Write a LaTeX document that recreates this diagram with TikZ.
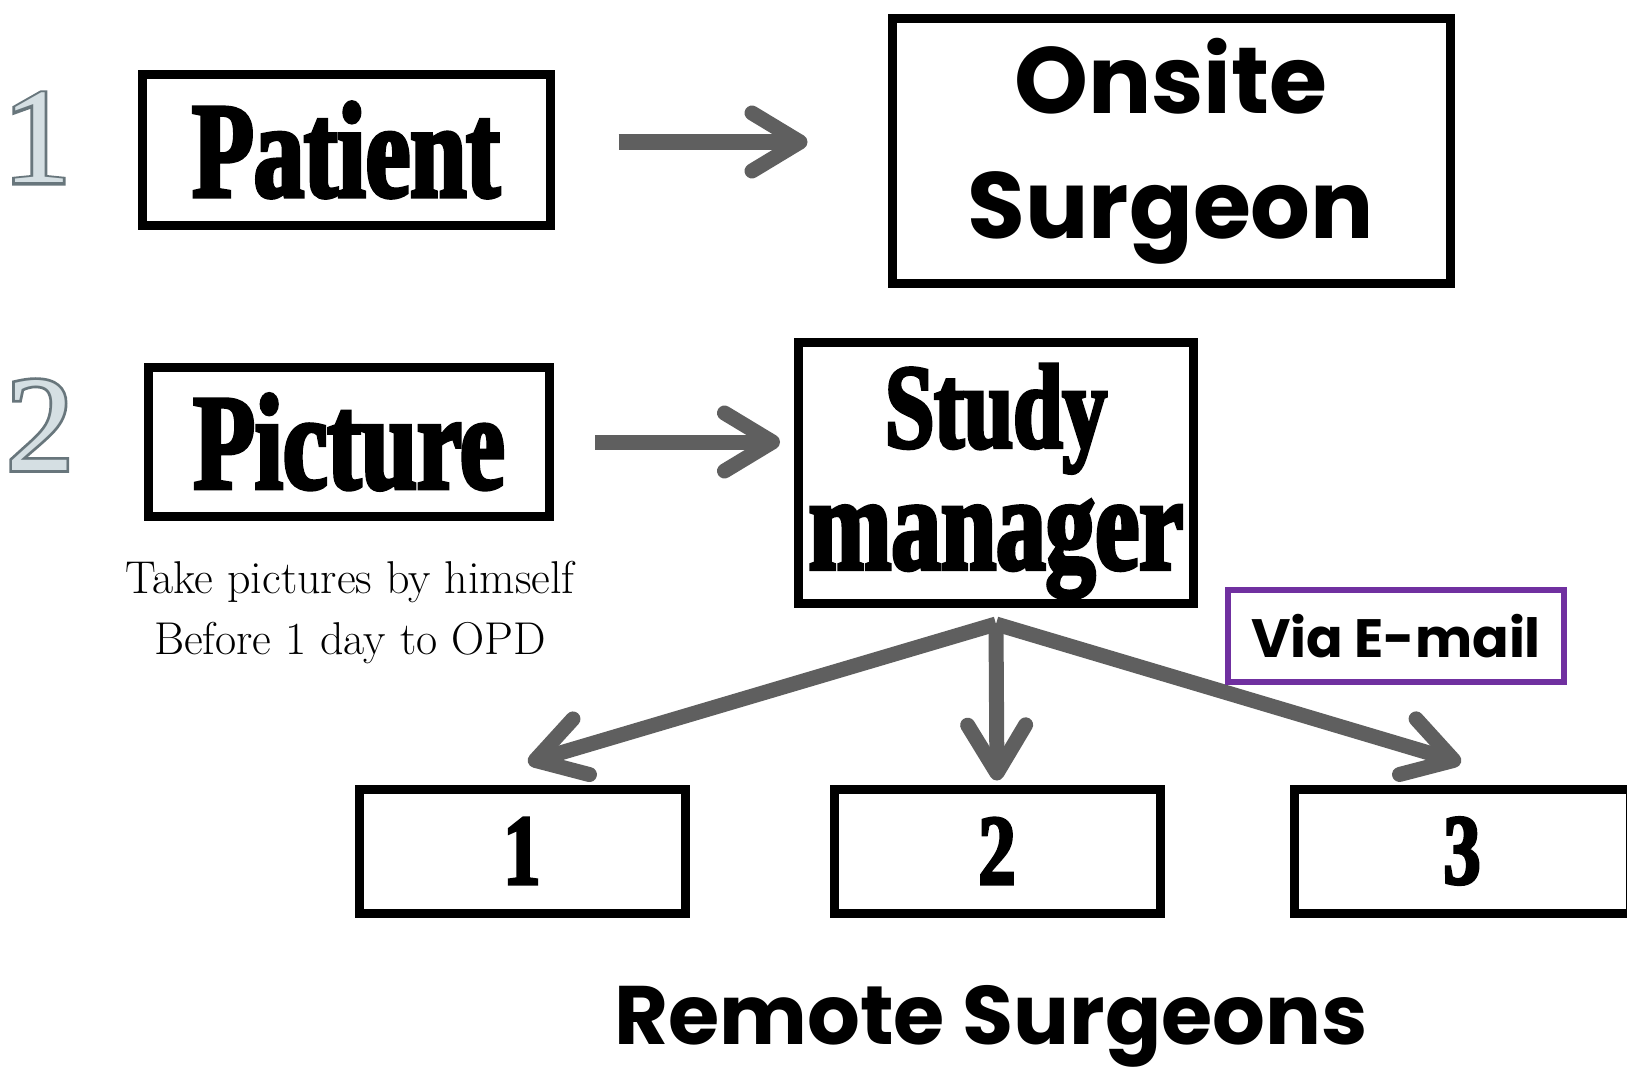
\documentclass[tikz,border=0pt]{standalone}
\usepackage{fontspec}
\usepackage{tikz}
\usetikzlibrary{arrows.meta}

% fonts
\newfontfamily\condfont{Liberation Serif}[FakeStretch=0.74, FakeBold=3]
\newfontfamily\headfont{Poppins}
\newfontfamily\numfont{Liberation Serif}
\newfontfamily\numedge{Liberation Serif}[FakeBold=4]

\definecolor{arrowgray}{HTML}{5F5F5F}
\definecolor{mailpurple}{HTML}{7030A0}
\definecolor{numfill}{HTML}{D5DFE3}
\definecolor{numline}{HTML}{68767C}

\tikzset{
  blackbox/.style={draw, line width=9pt, inner sep=0pt, align=center},
  flowarrow/.style={draw=arrowgray, line width=15pt,
    -{Straight Barb[length=48pt,width=58pt,line cap=round,line join=round]}},
  stepnum/.style={inner sep=0pt, font=\fontsize{136}{136}\selectfont},
}

\begin{document}
\begin{tikzpicture}[x=1pt,y=-1pt]
        \useasboundingbox (0,0) rectangle (1627,1070);

        % Step numbers
        \node[stepnum, text=numline, font=\numedge\fontsize{136}{136}\selectfont] (one) at (37,138) {1};
        \node[stepnum, text=numfill, font=\numfont\fontsize{136}{136}\selectfont] (oneface) at (37,138) {1};
        \node[stepnum, text=numline, font=\numedge\fontsize{136}{136}\selectfont] (two) at (40,425) {2};
        \node[stepnum, text=numfill, font=\numfont\fontsize{136}{136}\selectfont] (twoface) at (40,425) {2};

        % Step 1
        \node[blackbox, minimum width=408pt, minimum height=150pt,
              font=\condfont\bfseries\fontsize{136}{136}\selectfont] (patient) at (346,150) {Patient};
        \node[blackbox, minimum width=558pt, minimum height=264pt,
              font=\headfont\bfseries\fontsize{94}{125}\selectfont] (onsite) at (1171,151) {Onsite\\Surgeon};
        \draw[flowarrow, shorten <=64pt, shorten >=80pt] ([yshift=8pt]patient.east) -- ([yshift=9pt]onsite.west);

        % Step 2
        \node[blackbox, minimum width=401pt, minimum height=149pt,
              font=\condfont\bfseries\fontsize{136}{136}\selectfont] (picture) at (349,442) {Picture};
        \node[align=center, inner sep=0pt, font=\fontsize{46}{61}\selectfont] (howto) at (350,613)
              {Take pictures by himself\\Before 1 day to OPD};
        \node[blackbox, minimum width=395pt, minimum height=261pt,
              font=\condfont\bfseries] (study) at (996,473)
              {\fontsize{120}{122}\selectfont\rule{0pt}{100pt}Study\\[26pt]\fontsize{134}{122}\selectfont manager};
        \draw[flowarrow, shorten <=41pt, shorten >=14pt] (picture.east) -- (picture.east -| study.west);

        % Remote surgeons
        \node[blackbox, minimum width=326pt, minimum height=124pt,
              font=\condfont\bfseries\fontsize{100}{100}\selectfont] (surg1) at (522,851) {1};
        \node[blackbox, minimum width=326pt, minimum height=124pt,
              font=\condfont\bfseries\fontsize{100}{100}\selectfont] (surg2) at (997,851) {2};
        \node[blackbox, minimum width=336pt, minimum height=124pt,
              font=\condfont\bfseries\fontsize{100}{100}\selectfont] (surg3) at (1462,851) {3};
        \node[font=\headfont\bfseries\fontsize{83}{83}\selectfont, inner sep=0pt] (remote) at (991,1026) {Remote Surgeons};

        % Sending out the pictures
        \coordinate (fan) at ([yshift=-16pt]study.south);
        \draw[flowarrow] (fan) -- ([xshift=6pt,yshift=22pt]surg1.north);
        \draw[flowarrow, shorten >=4pt] (fan) -- (surg2.north);
        \draw[flowarrow] (fan) -- ([xshift=-1pt,yshift=22pt]surg3.north);

        \node[draw=mailpurple, fill=white, line width=5.5pt, minimum width=336pt, minimum height=92pt,
              inner sep=0pt, font=\headfont\bfseries\fontsize{54}{54}\selectfont] (mail) at (1396,636) {Via E-mail};
    \end{tikzpicture}
\end{document}
